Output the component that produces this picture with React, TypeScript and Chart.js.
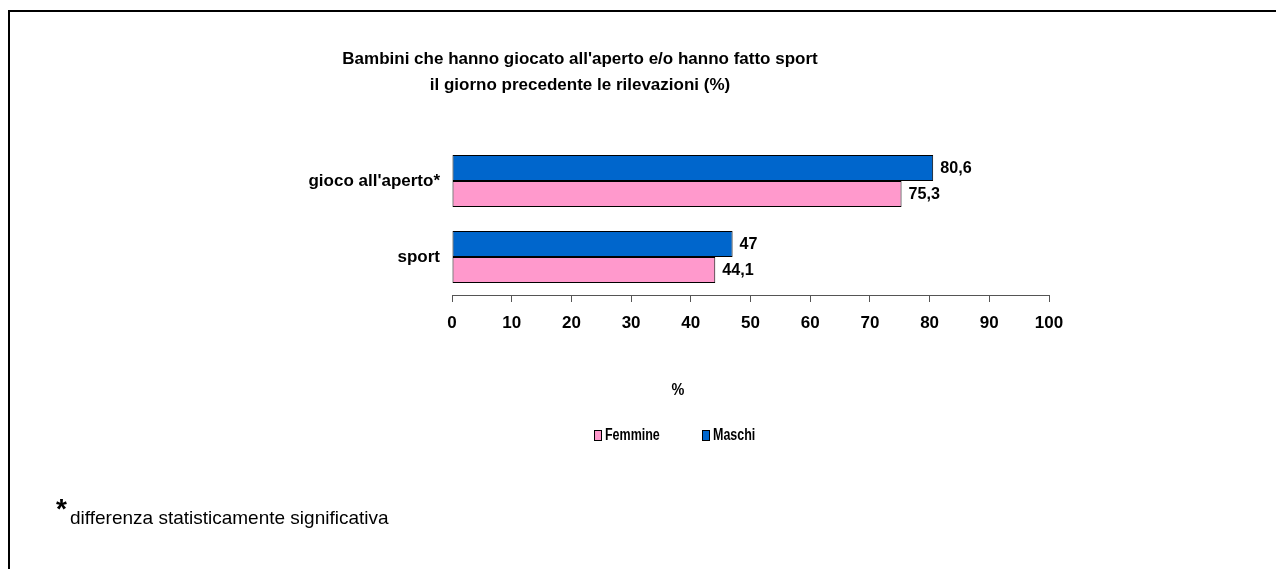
import React, { useEffect, useRef } from "react";
import { Chart, registerables } from "chart.js";

Chart.register(...registerables);

const categories = ["gioco all'aperto*", "sport"];
const maschiValues = [80.6, 47];
const femmineValues = [75.3, 44.1];
const seriesNames = ["Maschi", "Femmine"];
const seriesColors = ["#0066CC", "#FF99CC"];
const legendOrder = [1, 0];
const titleLines = [
  "Bambini che hanno giocato all'aperto e/o hanno fatto sport",
  "il giorno precedente le rilevazioni (%)",
];
const axisTitle = "%";
const footnoteMark = "*";
const footnoteText = "differenza statisticamente significativa";

const FONT = '"Liberation Sans", Arial, Helvetica, sans-serif';

function drawText(
  ctx: CanvasRenderingContext2D,
  s: string,
  x: number,
  y: number,
  size: number,
  bold: boolean,
  align: CanvasTextAlign,
  baseline: CanvasTextBaseline = "middle",
  sx: number = 1
) {
  ctx.save();
  ctx.font = `${bold ? "bold " : ""}${size}px ${FONT}`;
  ctx.textAlign = align;
  ctx.textBaseline = baseline;
  ctx.fillStyle = "#000";
  ctx.translate(x, y);
  ctx.scale(sx, 1);
  ctx.fillText(s, 0, 0);
  ctx.restore();
}

const fmt = (v: number) => String(v).replace(".", ",");

const extrasPlugin = {
  id: "extras",
  afterDraw(chart: any) {
    const ctx: CanvasRenderingContext2D = chart.ctx;
    // frame
    ctx.save();
    ctx.fillStyle = "#000";
    ctx.fillRect(8, 10, 2, 559);
    ctx.fillRect(8, 10, 1268, 2);
    ctx.restore();

    // title
    drawText(ctx, titleLines[0], 580, 59, 17, true, "center");
    drawText(ctx, titleLines[1], 580, 85, 17, true, "center");

    // data labels
    chart.data.datasets.forEach((ds: any, di: number) => {
      const meta = chart.getDatasetMeta(di);
      meta.data.forEach((el: any, i: number) => {
        drawText(ctx, fmt(ds.data[i]), el.x + 7, el.y, 17, true, "left", "middle", 0.95);
      });
    });

    // axis title
    drawText(ctx, axisTitle, 678, 390, 17, true, "center", "middle", 0.85);

    // legend
    const legendX = [594, 702];
    legendOrder.forEach((di, k) => {
      const x = legendX[k];
      ctx.save();
      ctx.fillStyle = seriesColors[di];
      ctx.fillRect(x, 430, 8, 11);
      ctx.strokeStyle = "#000";
      ctx.lineWidth = 1;
      ctx.strokeRect(x + 0.5, 430.5, 7, 10);
      ctx.restore();
      drawText(ctx, seriesNames[di], x + 11, 436, 16, true, "left", "middle", 0.78);
    });

    // footnote
    drawText(ctx, footnoteMark, 56, 518, 28, true, "left", "alphabetic");
    drawText(ctx, footnoteText, 70, 519, 19, false, "left");
  },
};

export default function App() {
  const ref = useRef<HTMLCanvasElement>(null);
  useEffect(() => {
    if (!ref.current) return;
    const chart = new Chart(ref.current, {
      type: "bar",
      data: {
        labels: categories,
        datasets: [
          {
            label: seriesNames[0],
            data: maschiValues,
            backgroundColor: seriesColors[0],
            borderColor: "#000",
            borderWidth: 1,
            borderSkipped: false,
          },
          {
            label: seriesNames[1],
            data: femmineValues,
            backgroundColor: seriesColors[1],
            borderColor: "#000",
            borderWidth: 1,
            borderSkipped: false,
          },
        ],
      },
      options: {
        indexAxis: "y",
        animation: false,
        responsive: false,
        events: [],
        datasets: { bar: { categoryPercentage: 0.684, barPercentage: 1 } },
        layout: { padding: { left: 0, top: 143, right: 227, bottom: 0 } },
        plugins: {
          legend: { display: false },
          title: { display: false },
          tooltip: { enabled: false },
        },
        scales: {
          x: {
            min: 0,
            max: 100,
            ticks: {
              stepSize: 10,
              color: "#000",
              font: { family: FONT, size: 17, weight: "bold" },
              padding: 11,
            },
            grid: {
              drawOnChartArea: false,
              drawTicks: true,
              tickLength: 7,
              color: "#555",
            },
            border: { display: true, color: "#555" },
            afterFit: (s: any) => {
              s.height = 274;
            },
          },
          y: {
            ticks: {
              color: "#000",
              font: { family: FONT, size: 17, weight: "bold" },
              padding: 12,
            },
            grid: { display: false, drawTicks: false },
            border: { display: false },
            afterFit: (s: any) => {
              s.width = 452;
            },
          },
        },
      },
      plugins: [extrasPlugin],
    } as any);
    return () => chart.destroy();
  }, []);
  return (
    <div style={{ position: "fixed", left: 0, top: 0, width: 1276, height: 569, background: "#fff" }}>
      <canvas ref={ref} width={1276} height={569} style={{ display: "block" }} />
    </div>
  );
}
